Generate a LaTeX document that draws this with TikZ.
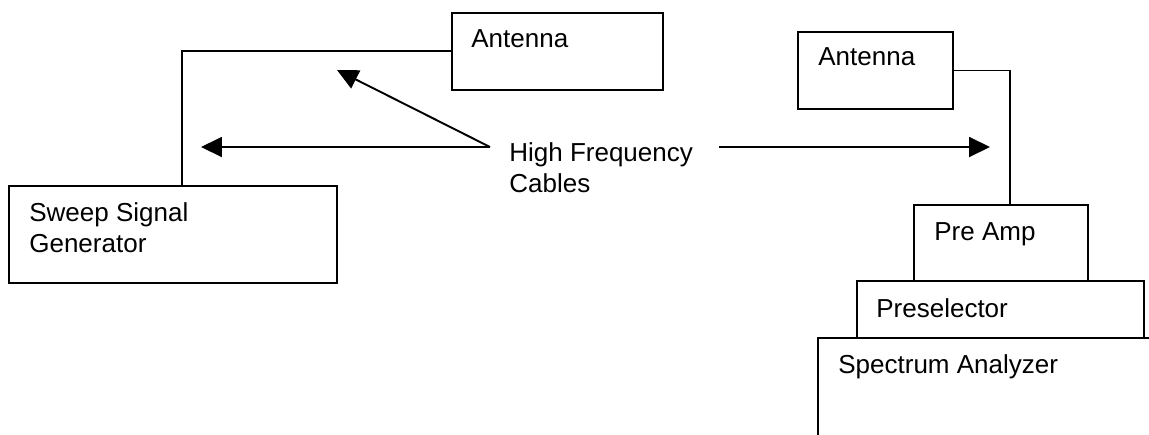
\documentclass[tikz,border=0pt]{standalone}
\usepackage{fontspec}
\setmainfont{Liberation Sans}
\usetikzlibrary{arrows.meta}

\tikzset{
  box/.style={draw, line width=1.1pt, inner sep=0pt, anchor=north west},
  lbl/.style={inner sep=0pt, anchor=base west, align=left, font=\fontsize{14.8}{17.4}\selectfont},
  wire/.style={line width=1.1pt},
  cable/.style={line width=1.1pt, -{Triangle[length=0.42cm,width=0.4cm]}}
}

\begin{document}
\begin{tikzpicture}[x=0.02cm, y=-0.02cm]
\path[use as bounding box, clip] (0,0) rectangle (1149,434);

% transmit side
\node[box, minimum width=4.22cm, minimum height=1.54cm] (antL) at (451,12) {};
\node[lbl] (antLt) at (471,47) {Antenna};
\node[box, minimum width=6.56cm, minimum height=1.94cm] (sweep) at (8,185) {};
\node[lbl] (sweept) at (29,252) {Sweep Signal\\Generator};
\draw[wire] (antL.west) -| ([xshift=0.18cm]sweep.north);

% receive side
\node[box, minimum width=3.1cm, minimum height=1.54cm] (antR) at (797,31) {};
\node[lbl] (antRt) at (818,65) {Antenna};
\node[box, minimum width=3.48cm, minimum height=1.52cm] (pre) at (913,204) {};
\node[lbl] (pret) at (934,240) {Pre Amp};
\node[box, minimum width=5.74cm, minimum height=1.14cm] (presel) at (856,280) {};
\node[lbl] (preselt) at (876,317) {Preselector};
\node[box, minimum width=7cm, minimum height=3cm] (spec) at (817,337) {};
\node[lbl] (spect) at (838,373) {Spectrum Analyzer};
\draw[wire] (antR.east) -| ([xshift=0.18cm]pre.north);

% cables
\node[lbl] (hf) at (509,192) {High Frequency\\Cables};
\coordinate (hub) at (490,147);
\coordinate (tipL) at (201,147);
\coordinate (tipD) at (337,70);
\coordinate (tail) at (719,147);
\coordinate (tipR) at (990,147);
\draw[cable] (hub) -- (tipL);
\draw[cable] (hub) -- (tipD);
\draw[cable] (tail) -- (tipR);
\end{tikzpicture}
\end{document}
